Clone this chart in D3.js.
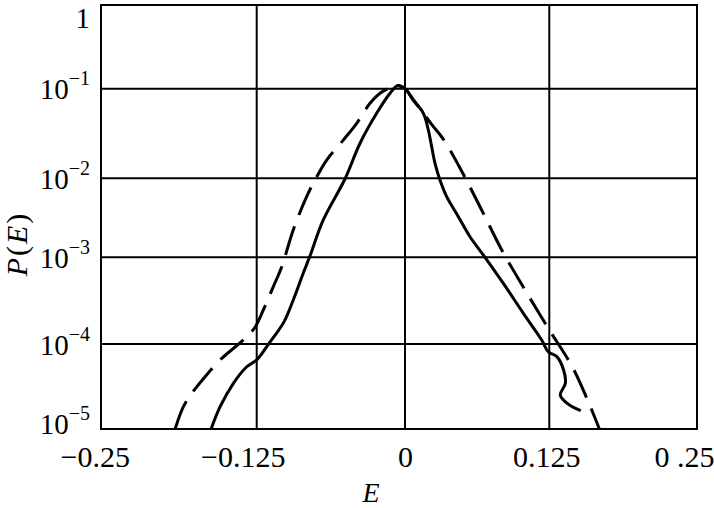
<!DOCTYPE html>
<html><head><meta charset="utf-8">
<script src="https://cdn.jsdelivr.net/npm/d3@7"></script>
<style>
body{margin:0;background:#fff}
svg{display:block}
text{font-family:"Liberation Serif","Times New Roman",serif;fill:#000}
</style>
</head><body>
<svg id="chart" width="714" height="508"></svg>
<script>
// ---- data ----
const xTicks = [-0.25, -0.125, 0, 0.125, 0.25];
const xTickLabels = ["\u22120.25", "\u22120.125", "0", "0.125", "0 .25"];
const yTicks = [1e-5, 1e-4, 1e-3, 1e-2, 1e-1, 1];
const yTickExps = [-5, -4, -3, -2, -1, 0];
const xAxisTitle = "E";
const yAxisTitle = ["P", "(", "E", ")"];

// solid curve
const solidE = [-0.1635, -0.1559, -0.1447, -0.1334, -0.125, -0.1152, -0.1020, -0.0942, -0.0857, -0.0805,
  -0.0689, -0.0506, -0.0379, -0.0239, -0.0126, -0.0059, 0.0, 0.0072, 0.0159, 0.0202, 0.0231, 0.0260,
  0.0303, 0.0361, 0.0462, 0.0563, 0.0693, 0.0852, 0.1025, 0.1184, 0.1241, 0.1314, 0.1371, 0.1386,
  0.1343, 0.1401, 0.1516];
const solidP = [1e-5, 1.83e-5, 3.45e-5, 5.4e-5, 6.5e-5, 9.9e-5, 1.8e-4, 3.22e-4, 6.6e-4, 1e-3,
  2.97e-3, 9.8e-3, 0.0246, 0.0531, 0.0889, 0.109, 0.1, 0.0748, 0.0531, 0.0346, 0.0225, 0.0147,
  9.5e-3, 5.85e-3, 3.27e-3, 1.82e-3, 1e-3, 5.0e-4, 2.26e-4, 1.11e-4, 8.1e-5, 7.1e-5, 4.94e-5, 3.45e-5,
  2.51e-5, 2.0e-5, 1.64e-5];

// dashed curve
const dashedE = [-0.1939, -0.1869, -0.1798, -0.1686, -0.1559, -0.1349, -0.1264, -0.1194, -0.1110,
  -0.1039, -0.0942, -0.0829, -0.0744, -0.0660, -0.0520, -0.0407, -0.0295, -0.0211, -0.0126, -0.0059,
  0.0, 0.0072, 0.0159, 0.0234, 0.0327, 0.0462, 0.0664, 0.0838, 0.1040, 0.1241, 0.1444, 0.1574, 0.1674];
const dashedP = [1e-5, 1.83e-5, 2.63e-5, 4.12e-5, 6.5e-5, 1.16e-4, 1.56e-4, 2.47e-4, 4.58e-4,
  7.8e-4, 2.22e-3, 5.85e-3, 0.0104, 0.016, 0.0267, 0.0411, 0.0687, 0.0889, 0.103, 0.109,
  0.1, 0.0748, 0.0531, 0.0394, 0.0279, 0.0141, 3.97e-3, 1.24e-3, 4.2e-4, 1.52e-4, 5.4e-5, 2.19e-5, 1e-5];

// ---- layout ----
const xDomainMin = -0.2565;
const L = 101, R = 697, T = 5, B = 429;

const svg = d3.select("#chart");

const x = d3.scaleLinear()
  .domain([xDomainMin, -0.125, 0, 0.125, 0.25])
  .range([L, 256.7, 405, 549.3, R]);
const y = d3.scaleLog()
  .domain(yTicks)
  .range([B, 344, 257.3, 178.3, 88.7, T]);

// grid
const grid = svg.append("g").attr("stroke", "#000").attr("stroke-width", 2);
grid.selectAll("line.v").data(xTicks.filter(v => x(v) > L + 12 && x(v) < R - 2))
  .join("line").attr("class", "v")
  .attr("x1", d => x(d)).attr("x2", d => x(d)).attr("y1", T).attr("y2", B);
grid.selectAll("line.h").data(yTicks.filter(v => y(v) > T + 2 && y(v) < B - 2))
  .join("line").attr("class", "h")
  .attr("x1", L).attr("x2", R).attr("y1", d => y(d)).attr("y2", d => y(d));
svg.append("rect").attr("x", L).attr("y", T).attr("width", R - L).attr("height", B - T)
  .attr("fill", "none").attr("stroke", "#000").attr("stroke-width", 2);

// curves
svg.append("clipPath").attr("id", "clip").append("rect")
  .attr("x", L).attr("y", T).attr("width", R - L).attr("height", B - T);
const line = d3.line().x(d => x(d[0])).y(d => y(d[1])).curve(d3.curveCatmullRom.alpha(0.5));
const curves = svg.append("g").attr("clip-path", "url(#clip)");
curves.append("path").datum(dashedE.map((e, i) => [e, dashedP[i]]))
  .attr("d", line).attr("fill", "none").attr("stroke", "#000").attr("stroke-width", 3)
  .attr("stroke-dasharray", "30,12");
curves.append("path").datum(solidE.map((e, i) => [e, solidP[i]]))
  .attr("d", line).attr("fill", "none").attr("stroke", "#000").attr("stroke-width", 3);

// x axis
const xAxis = svg.append("g").attr("transform", `translate(0,${B})`)
  .call(d3.axisBottom(x).tickValues(xTicks).tickFormat((d, i) => xTickLabels[i]).tickSize(0));
xAxis.select(".domain").remove();
xAxis.selectAll("text")
  .attr("font-family", "'Liberation Serif','Times New Roman',serif")
  .attr("font-size", 30).attr("fill", "#000")
  .attr("y", 38).attr("dy", 0)
  .attr("dx", d => d < 0 ? -14 : (d >= 0.25 ? -13 : (d > 0 ? -3 : 0)));

// y axis
const yAxis = svg.append("g").attr("transform", `translate(${L},0)`)
  .call(d3.axisLeft(y).tickValues(yTicks).tickFormat("").tickSize(0));
yAxis.select(".domain").remove();
yAxis.selectAll(".tick text").each(function (d, i) {
  const t = d3.select(this);
  const e = yTickExps[i];
  const yy = y(d);
  t.attr("x", -11).attr("dy", 0).attr("text-anchor", "end")
    .attr("y", Math.min(Math.max(yy + 10, 27), 433) - yy)
    .attr("font-family", "'Liberation Serif','Times New Roman',serif").attr("fill", "#000");
  if (e === 0) {
    t.append("tspan").attr("font-size", 29).text("1");
  } else {
    t.append("tspan").attr("font-size", 29).text("10");
    t.append("tspan").attr("font-size", 20).attr("dy", -14).text("\u2212" + Math.abs(e));
  }
});

// titles
svg.append("text").attr("x", 371).attr("y", 502).attr("text-anchor", "middle")
  .attr("font-size", 28).attr("font-style", "italic").text(xAxisTitle);
const yt = svg.append("text").attr("transform", "translate(27,245) rotate(-90)")
  .attr("text-anchor", "middle").attr("font-size", 30);
yAxisTitle.forEach((s, i) => {
  yt.append("tspan").attr("font-style", (s === "P" || s === "E") ? "italic" : "normal")
    .attr("dx", i > 0 ? 2 : 0).text(s);
});
</script>
</body></html>
